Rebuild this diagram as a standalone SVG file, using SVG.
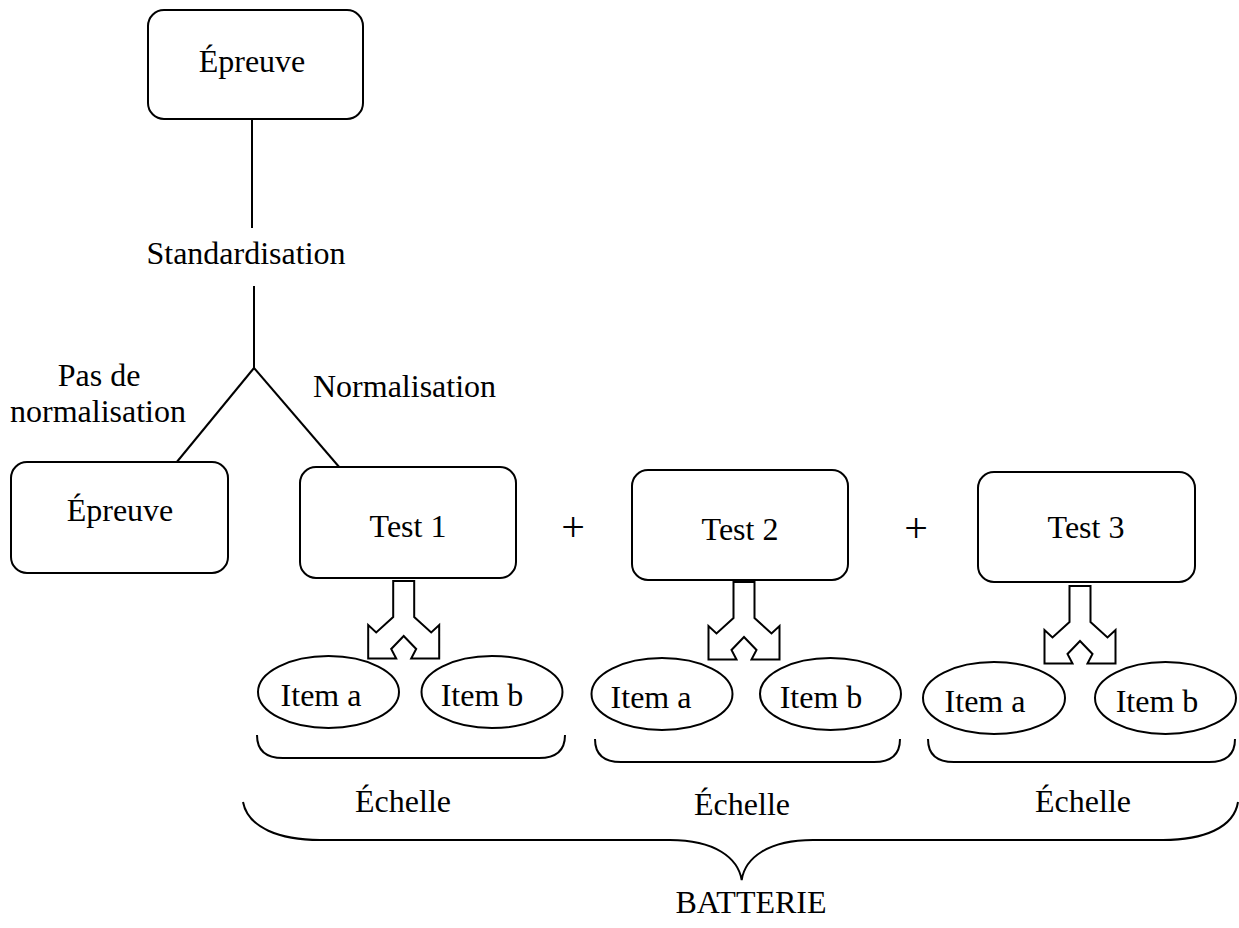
<svg xmlns="http://www.w3.org/2000/svg" width="1239" height="928" viewBox="0 0 1239 928">
<style>
.box{fill:#fff;stroke:#000;stroke-width:2}
.ell{fill:#fff;stroke:#000;stroke-width:2}
.ln{fill:none;stroke:#000;stroke-width:2}
.arr{fill:#fff;stroke:#000;stroke-width:2;stroke-linejoin:miter}
text{font-family:"Liberation Serif","Times New Roman",serif;font-size:32px;fill:#000}
.c{text-anchor:middle}
.plus{font-size:42px}
</style>
<defs>
<path id="split" class="arr" d="M -10.5,0 L -10.5,36 L -27.5,51.5 L -35.5,44 L -35.5,77.5 L -7.5,77.5 L -12.5,68 L 0,55 L 12.5,68 L 7.5,77.5 L 35.5,77.5 L 35.5,44 L 27.5,51.5 L 10.5,36 L 10.5,0 Z"/>
</defs>
<g id="connectors">
<line class="ln" x1="252" y1="119" x2="252" y2="228"/>
<line class="ln" x1="254" y1="286" x2="254" y2="368"/>
<line class="ln" x1="254" y1="368" x2="176" y2="463"/>
<line class="ln" x1="254" y1="368" x2="340" y2="468"/>
<use href="#split" x="403.7" y="581"/>
<use href="#split" x="744" y="582"/>
<use href="#split" x="1080" y="586"/>
</g>
<g id="epreuve-top"><rect class="box" x="148" y="10" width="215" height="109" rx="16"/><text class="c" x="252" y="72">Épreuve</text></g>
<g id="standardisation"><text class="c" x="246" y="264">Standardisation</text></g>
<g id="pas-norm"><text class="c" x="99" y="386">Pas de</text><text class="c" x="98" y="422">normalisation</text></g>
<g id="norm"><text x="313" y="397">Normalisation</text></g>
<g id="epreuve-left"><rect class="box" x="11" y="462" width="217" height="111" rx="16"/><text class="c" x="120" y="521">Épreuve</text></g>
<g id="test1"><rect class="box" x="300" y="467" width="216" height="111" rx="16"/><text class="c" x="408" y="537">Test 1</text></g>
<g id="plus1"><text class="c plus" x="573" y="541">+</text></g>
<g id="test2"><rect class="box" x="632" y="470" width="216" height="110" rx="16"/><text class="c" x="740" y="540">Test 2</text></g>
<g id="plus2"><text class="c plus" x="916" y="542">+</text></g>
<g id="test3"><rect class="box" x="978" y="472" width="217" height="110" rx="16"/><text class="c" x="1086" y="538">Test 3</text></g>
<g id="t1-items">
<ellipse class="ell" cx="328.5" cy="692" rx="70.5" ry="36"/><text class="c" x="321" y="706">Item a</text>
<ellipse class="ell" cx="492" cy="692" rx="70.5" ry="36"/><text class="c" x="482" y="706">Item b</text>
</g>
<g id="t2-items">
<ellipse class="ell" cx="662" cy="694" rx="70.5" ry="36"/><text class="c" x="651" y="708">Item a</text>
<ellipse class="ell" cx="830.5" cy="694" rx="70.5" ry="36"/><text class="c" x="821" y="708">Item b</text>
</g>
<g id="t3-items">
<ellipse class="ell" cx="994" cy="698" rx="71" ry="36"/><text class="c" x="985" y="712">Item a</text>
<ellipse class="ell" cx="1165.5" cy="698" rx="70.5" ry="36"/><text class="c" x="1157" y="712">Item b</text>
</g>
<g id="brackets">
<path class="ln" d="M 257,735 C 257,750 266,758 283,758 L 539,758 C 556,758 565,750 565,735"/>
<path class="ln" d="M 595,739 C 595,754 604,762 621,762 L 874,762 C 891,762 900,754 900,739"/>
<path class="ln" d="M 928,739 C 928,754 937,762 954,762 L 1209,762 C 1226,762 1235,754 1235,739"/>
<path class="ln" d="M 243,802 C 248,828 280,840 320,840 L 670,840 C 715,840 738,858 741.7,880 C 745,858 768,840 813,840 L 1163,840 C 1203,840 1234,828 1238,802"/>
</g>
<g id="echelles">
<text class="c" x="403" y="812">Échelle</text>
<text class="c" x="742" y="815">Échelle</text>
<text class="c" x="1083" y="812">Échelle</text>
</g>
<g id="batterie"><text class="c" x="751" y="913">BATTERIE</text></g>
</svg>
